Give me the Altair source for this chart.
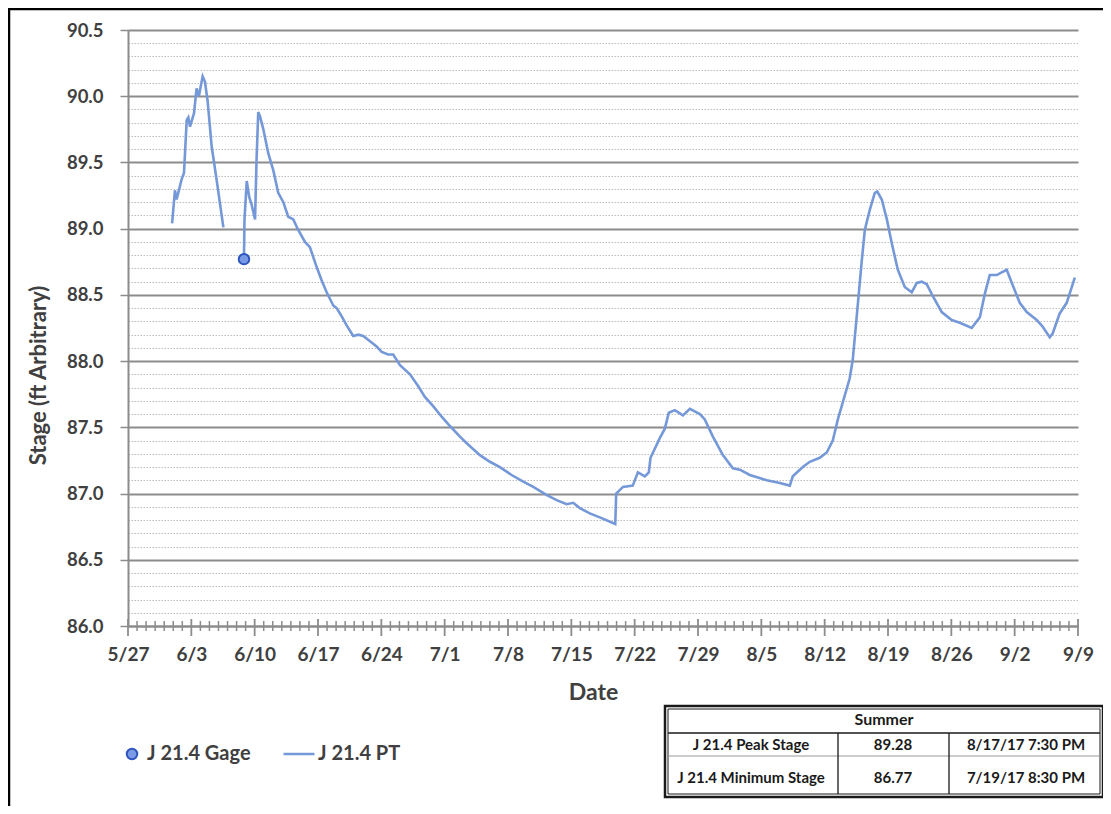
import altair as alt
import pandas as pd
import numpy as np

# ---------------- data ----------------
series_names = ["J 21.4 Gage", "J 21.4 PT"]

pt1_times = ["2017-05-31 21:00", "2017-06-01 04:30", "2017-06-01 09:00", "2017-06-01 22:00",
             "2017-06-02 04:30", "2017-06-02 11:45", "2017-06-02 16:00", "2017-06-02 20:30",
             "2017-06-03 07:00", "2017-06-03 14:00", "2017-06-03 20:00", "2017-06-04 06:00",
             "2017-06-04 12:00", "2017-06-04 19:00", "2017-06-05 06:00", "2017-06-05 19:00",
             "2017-06-06 13:00"]
pt1_vals = [89.04, 89.29, 89.22, 89.37, 89.42, 89.82, 89.84, 89.77, 89.87, 90.06, 90.00, 90.15,
            90.11, 89.97, 89.62, 89.37, 89.01]

pt2_times = ["2017-06-08 19:40", "2017-06-08 21:00", "2017-06-09 03:00", "2017-06-09 09:30",
             "2017-06-09 16:00", "2017-06-10 01:00", "2017-06-10 05:00", "2017-06-10 09:30",
             "2017-06-10 14:00", "2017-06-10 23:00", "2017-06-11 12:00", "2017-06-12 01:30",
             "2017-06-12 14:30", "2017-06-13 04:00", "2017-06-13 17:00", "2017-06-14 06:30",
             "2017-06-14 19:30", "2017-06-15 13:30", "2017-06-16 02:30", "2017-06-16 20:30",
             "2017-06-17 09:30", "2017-06-17 23:00", "2017-06-18 16:30", "2017-06-19 01:30",
             "2017-06-19 14:30", "2017-06-20 04:00", "2017-06-20 21:30", "2017-06-21 11:00",
             "2017-06-22 00:00", "2017-06-22 18:00", "2017-06-23 11:30", "2017-06-24 01:00",
             "2017-06-24 18:00", "2017-06-25 07:30", "2017-06-26 01:30", "2017-06-27 04:00",
             "2017-06-28 02:00", "2017-06-28 19:30", "2017-06-29 17:30", "2017-06-30 16:00",
             "2017-07-01 14:00", "2017-07-02 16:30", "2017-07-03 10:30", "2017-07-04 21:30",
             "2017-07-06 00:00", "2017-07-07 02:30", "2017-07-08 09:30", "2017-07-09 16:30",
             "2017-07-10 19:00", "2017-07-12 06:00", "2017-07-13 09:00", "2017-07-14 11:30",
             "2017-07-15 05:00", "2017-07-15 22:30", "2017-07-17 01:00", "2017-07-18 03:30",
             "2017-07-19 20:30", "2017-07-19 23:00", "2017-07-20 17:00", "2017-07-21 19:00",
             "2017-07-22 08:30", "2017-07-23 03:00", "2017-07-23 13:30", "2017-07-23 18:00",
             "2017-07-24 19:00", "2017-07-25 08:00", "2017-07-25 18:30", "2017-07-26 10:30",
             "2017-07-27 08:00", "2017-07-28 02:30", "2017-07-29 05:00", "2017-07-29 18:00",
             "2017-07-30 15:30", "2017-07-31 18:00", "2017-08-01 20:30", "2017-08-02 15:00",
             "2017-08-03 17:30", "2017-08-05 14:30", "2017-08-07 01:00", "2017-08-08 03:30",
             "2017-08-08 11:30", "2017-08-09 14:00", "2017-08-10 08:30", "2017-08-11 11:00",
             "2017-08-12 05:30", "2017-08-12 21:30", "2017-08-13 11:00", "2017-08-14 18:30",
             "2017-08-15 02:30", "2017-08-15 18:30", "2017-08-16 02:30", "2017-08-16 10:30",
             "2017-08-16 23:30", "2017-08-17 13:00", "2017-08-17 19:30", "2017-08-18 07:30",
             "2017-08-18 21:00", "2017-08-19 10:00", "2017-08-20 02:00", "2017-08-20 20:30",
             "2017-08-21 15:00", "2017-08-22 04:30", "2017-08-22 17:30", "2017-08-23 07:00",
             "2017-08-23 23:00", "2017-08-24 22:30", "2017-08-26 01:00", "2017-08-26 22:30",
             "2017-08-28 06:00", "2017-08-29 03:30", "2017-08-29 17:00", "2017-08-30 06:00",
             "2017-08-31 00:30", "2017-08-31 13:30", "2017-09-01 03:00", "2017-09-01 16:30",
             "2017-09-02 13:30", "2017-09-03 08:00", "2017-09-04 10:30", "2017-09-05 02:30",
             "2017-09-05 21:00", "2017-09-06 05:00", "2017-09-06 23:30", "2017-09-07 18:00",
             "2017-09-08 15:30"]
pt2_vals = [88.78, 89.07, 89.36, 89.24, 89.18, 89.07, 89.52, 89.88, 89.85, 89.75, 89.57, 89.44,
            89.27, 89.20, 89.09, 89.07, 88.99, 88.90, 88.86, 88.71, 88.61, 88.52, 88.42, 88.40,
            88.34, 88.27, 88.19, 88.20, 88.19, 88.15, 88.11, 88.07, 88.05, 88.05, 87.97, 87.90,
            87.81, 87.73, 87.66, 87.58, 87.51, 87.43, 87.38, 87.29, 87.24, 87.20, 87.14, 87.09,
            87.05, 86.99, 86.95, 86.92, 86.93, 86.89, 86.85, 86.82, 86.77, 87.00, 87.05, 87.06,
            87.16, 87.13, 87.16, 87.27, 87.42, 87.49, 87.61, 87.63, 87.59, 87.64, 87.60, 87.56,
            87.43, 87.29, 87.19, 87.18, 87.14, 87.10, 87.08, 87.06, 87.13, 87.20, 87.24, 87.27,
            87.31, 87.40, 87.56, 87.87, 88.01, 88.51, 88.76, 88.99, 89.14, 89.27, 89.28, 89.22,
            89.07, 88.89, 88.69, 88.56, 88.52, 88.59, 88.60, 88.58, 88.49, 88.37, 88.31, 88.29,
            88.25, 88.33, 88.51, 88.65, 88.65, 88.67, 88.69, 88.59, 88.44, 88.37, 88.31, 88.26,
            88.18, 88.21, 88.36, 88.44, 88.63]

gage_times = ["2017-06-08 19:40"]
gage_vals = [88.77]

x_label_dates = ["2017-05-27", "2017-06-03", "2017-06-10", "2017-06-17", "2017-06-24",
                 "2017-07-01", "2017-07-08", "2017-07-15", "2017-07-22", "2017-07-29",
                 "2017-08-05", "2017-08-12", "2017-08-19", "2017-08-26", "2017-09-02",
                 "2017-09-09"]
y_ticks = [round(86.0 + 0.1 * i, 1) for i in range(46)]

y_title = "Stage (ft Arbitrary)"
x_title = "Date"
table_header = "Summer"
table_rows = [["J 21.4 Peak Stage", "89.28", "8/17/17 7:30 PM"],
              ["J 21.4 Minimum Stage", "86.77", "7/19/17 8:30 PM"]]

# ---------------- styling ----------------
FONT = "Lato"
TXT = "#404040"
LINE_C = "#7598d8"
GAGE_FILL = "#7a9ae6"
GAGE_STROKE = "#2f55c0"
GRID_MAJOR = "#8c8c8c"
GRID_MINOR = "#bdbdbd"

W, H = 950, 596

df_line = pd.concat([
    pd.DataFrame({"time": pt1_times, "stage": pt1_vals, "seg": "a", "series": series_names[1]}),
    pd.DataFrame({"time": pt2_times, "stage": pt2_vals, "seg": "b", "series": series_names[1]}),
], ignore_index=True)
df_gage = pd.DataFrame({"time": gage_times, "stage": gage_vals, "series": series_names[0]})

def dt(s):
    y, m, d = (int(v) for v in s.split("-"))
    return alt.DateTime(year=y, month=m, date=d)

x_scale = alt.Scale(domain=[dt(x_label_dates[0]), dt(x_label_dates[-1])], nice=False)
y_scale = alt.Scale(domain=[86.0, 90.5], nice=False, zero=False)

major = "abs(datum.value*2 - round(datum.value*2)) < 0.001"

x_axis = alt.Axis(values=[dt(s) for s in x_label_dates], tickCount=200, format="%-m/%-d",
                  ticks=False, grid=False,
                  domainColor=GRID_MAJOR, domainWidth=2, labelFont=FONT, labelFontSize=19,
                  labelFontWeight="bold", labelColor=TXT, labelPadding=19, labelFlush=False,
                  labelOverlap=False, labelBound=False, title=x_title, titleFont=FONT,
                  titleFontSize=23, titleFontWeight="bold", titleColor=TXT,
                  titleX=465, titleY=66, titleAlign="center", titleBaseline="middle")
y_axis = alt.Axis(values=y_ticks, tickCount=200,
                  labelExpr=f"{major} ? format(datum.value, '.1f') : ''",
                  gridColor={"condition": {"test": major, "value": GRID_MAJOR}, "value": GRID_MINOR},
                  gridDash={"condition": {"test": major, "value": []}, "value": [1.5, 1.5]},
                  gridWidth={"condition": {"test": major, "value": 1.8}, "value": 1},
                  tickOpacity={"condition": {"test": major, "value": 1}, "value": 0},
                  tickColor=GRID_MAJOR, tickSize=8, tickWidth=1.5,
                  domainColor=GRID_MAJOR, domainWidth=2, labelFont=FONT, labelFontSize=18.5,
                  labelFontWeight="bold", labelColor=TXT, labelPadding=17, labelOverlap=False,
                  title=y_title, titleFont=FONT, titleFontSize=22, titleFontWeight="bold",
                  titleColor=TXT, titleX=-90, titleY=345, titleAngle=270,
                  titleAlign="center", titleBaseline="middle")

leg_common = dict(title=None, orient="none", direction="horizontal", padding=0,
                  labelFont=FONT, labelFontSize=20, labelFontWeight="bold", labelColor=TXT)
gage_legend = alt.Legend(legendX=-6, legendY=714, symbolType="circle", symbolSize=110,
                         symbolStrokeColor=GAGE_STROKE, symbolStrokeWidth=2,
                         symbolFillColor=GAGE_FILL, labelOffset=5, **leg_common)
pt_legend = alt.Legend(legendX=154, legendY=707, symbolType="stroke", symbolSize=961,
                       symbolStrokeWidth=2.5, symbolStrokeColor=LINE_C, labelOffset=2,
                       **leg_common)

line = alt.Chart(df_line).mark_line(strokeWidth=2.6).encode(
    x=alt.X("time:T", scale=x_scale, axis=x_axis),
    y=alt.Y("stage:Q", scale=y_scale, axis=y_axis),
    detail="seg:N",
    stroke=alt.Stroke("series:N", scale=alt.Scale(domain=[series_names[1]], range=[LINE_C]),
                      legend=pt_legend),
)
gage = alt.Chart(df_gage).mark_point(filled=True, stroke=GAGE_STROKE, strokeWidth=2, opacity=1,
                                     size=110).encode(
    x="time:T", y="stage:Q",
    fill=alt.Fill("series:N", scale=alt.Scale(domain=[series_names[0]], range=[GAGE_FILL]),
                  legend=gage_legend),
)

# daily crossing tick marks on the date axis
days = pd.date_range("2017-05-27", "2017-09-09", freq="D")
df_days = pd.DataFrame({"d": days.strftime("%Y-%m-%d 00:00"),
                        "major": [(i % 7 == 0) for i in range(len(days))]})
minor_ticks = alt.Chart(df_days[~df_days.major]).mark_rule(color=GRID_MAJOR, strokeWidth=1.5).encode(
    x="d:T", y=alt.value(H - 5), y2=alt.value(H + 5))
major_ticks = alt.Chart(df_days[df_days.major]).mark_rule(color=GRID_MAJOR, strokeWidth=1.8).encode(
    x="d:T", y=alt.value(H - 7), y2=alt.value(H + 10))

one = alt.Data(values=[{}])

def rule(x1, y1, x2, y2, color, width):
    return alt.Chart(one).mark_rule(color=color, strokeWidth=width).encode(
        x=alt.value(x1), y=alt.value(y1), x2=alt.value(x2), y2=alt.value(y2))

def text(s, x, y, size=15, weight="bold"):
    return alt.Chart(one).mark_text(font=FONT, fontSize=size, fontWeight=weight, color="#1a1a1a",
                                    align="center", baseline="middle").encode(
        x=alt.value(x), y=alt.value(y), text=alt.value(s))

# summary table (bottom right)
tx0, tx1, ty0, ty1 = 537, 975, 676, 767
table = [
    alt.Chart(one).mark_rect(fill="white", stroke="#1a1a1a", strokeWidth=2.5).encode(
        x=alt.value(tx0), x2=alt.value(tx1), y=alt.value(ty0), y2=alt.value(ty1)),
    alt.Chart(one).mark_rect(fill="white", stroke="#1a1a1a", strokeWidth=1).encode(
        x=alt.value(tx0 + 3), x2=alt.value(tx1 - 3), y=alt.value(ty0 + 3), y2=alt.value(ty1 - 3)),
    rule(tx0 + 3, 703, tx1 - 3, 703, "#1a1a1a", 1.5),
    rule(tx0 + 3, 726, tx1 - 3, 726, "#999999", 1),
    rule(710, 703, 710, ty1 - 3, "#1a1a1a", 1.3),
    rule(821, 703, 821, ty1 - 3, "#1a1a1a", 1.3),
    text(table_header, (tx0 + tx1) / 2, 690, size=16),
]
col_x = [623, 765, 898]
row_y = [715, 748]
for r, row in enumerate(table_rows):
    for c, cell in enumerate(row):
        table.append(text(cell, col_x[c], row_y[r]))

# outer frame of the figure (left and top edges)
frame = [rule(-119, -21, -119, 780, "#000000", 2.5), rule(-120, -21, 975, -21, "#000000", 2.5)]

chart = alt.layer(line, gage, minor_ticks, major_ticks, *table, *frame).properties(
    width=W, height=H,
    autosize=alt.AutoSizeParams(type="none"),
    padding={"left": 120, "top": 22, "right": 25, "bottom": 180},
    background="white",
).resolve_legend(fill="independent", stroke="independent").configure_view(stroke=None)

chart.save("out.html", embed_options={"renderer": "svg", "actions": False})
